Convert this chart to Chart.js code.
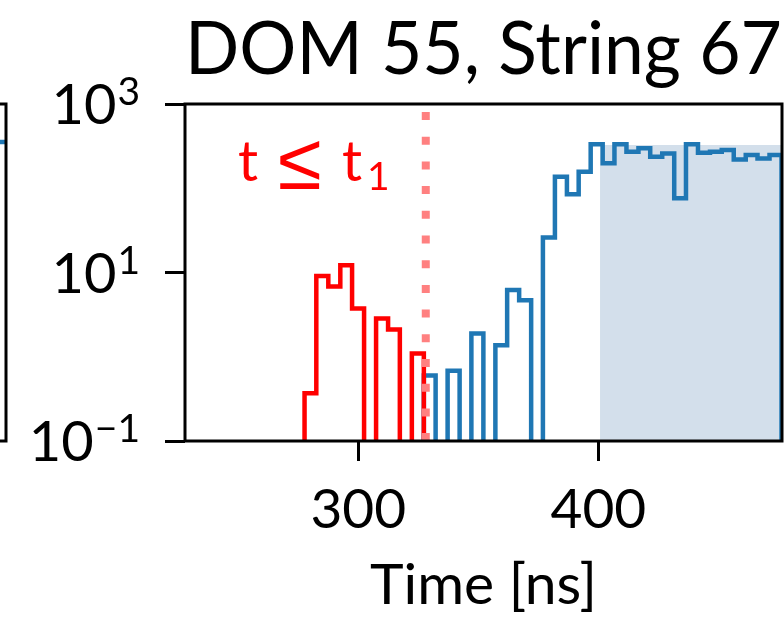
<!DOCTYPE html>
<html>
<head>
<meta charset="utf-8">
<script src="https://cdn.jsdelivr.net/npm/chart.js@4.4.0/dist/chart.umd.min.js"></script>
<style>
  html, body { margin: 0; padding: 0; background: #fff; overflow: hidden; }
  #wrap { position: relative; width: 784px; height: 623px; overflow: hidden; }
  #main { position: absolute; left: 0; top: 0; }
  #side { position: absolute; left: -292px; top: 0; }
</style>
</head>
<body>
<div id="wrap">
  <canvas id="side" width="300" height="623"></canvas>
  <canvas id="main" width="784" height="623"></canvas>
</div>
<script>
// histogram bin edges [ns]
const binEdges = [
  277.6, 282.5, 287.5, 292.5, 297.4, 302.4, 307.4, 312.4, 317.3, 322.3,
  327.3, 332.2, 337.2, 342.2, 347.1, 352.1, 357.1, 362.0, 367.0, 372.0,
  376.9, 381.9, 386.9, 391.8, 396.8, 401.8, 406.7, 411.7, 416.7, 421.6,
  426.6, 431.6, 436.5, 441.5, 446.5, 451.4, 456.4, 461.4, 466.3, 471.3, 476.3
];
// counts before t1 (red) and after (blue)
const redCounts = [0.37, 9.1, 6.8, 12.2, 3.75, 0, 2.85, 2.1, 0, 1.09];
const blueCounts = [
  0.60, 0, 0.68, 0, 1.89, 0, 1.37, 6.2, 4.7, 0,
  26, 137, 85, 157, 332, 198, 332, 272, 298, 237,
  259, 76, 332, 264, 272, 285, 220, 248, 226, 248
];
const t1 = 328.1;
const shadeStart = 400.7;
const shadeTop = 326;
const xTickValues = [300, 400];
const yTickValues = [0.1, 10, 1000];
// neighbouring panel (only its right edge is visible)
const sideX = [0.9, 1.0];
const sideY = [354, 354];

const FONT = 'Lato, "DejaVu Sans", sans-serif';
const FLOOR = 1e-3;
Chart.defaults.font.family = FONT;
Chart.defaults.color = '#000';

function stepPoints(edges, counts) {
  const pts = [{x: edges[0], y: FLOOR}];
  counts.forEach((c, i) => pts.push({x: edges[i], y: c > 0 ? c : FLOOR}));
  pts.push({x: edges[counts.length], y: FLOOR});
  return pts;
}

const framePlugin = {
  id: 'frame',
  afterDraw(chart) {
    const {ctx, chartArea: a} = chart;
    ctx.save();
    ctx.strokeStyle = '#000';
    ctx.lineWidth = 3;
    ctx.strokeRect(a.left, a.top, a.right - a.left, a.bottom - a.top);
    ctx.restore();
  }
};

const yLabelPlugin = {
  id: 'yLabels',
  afterDraw(chart) {
    const {ctx, scales: {y}} = chart;
    ctx.save();
    ctx.fillStyle = '#000';
    ctx.textAlign = 'right';
    ctx.textBaseline = 'alphabetic';
    yTickValues.forEach(v => {
      const py = y.getPixelForValue(v);
      const exp = Math.round(Math.log10(v));
      const sup = exp < 0 ? '\u2212' + (-exp) : String(exp);
      ctx.font = '39px ' + FONT;
      const sw = ctx.measureText(sup).width;
      ctx.fillText(sup, 140, py + 1);
      ctx.font = '56px ' + FONT;
      const m = ctx.measureText('10');
      ctx.fillText('10', 140 - sw - 1, py + m.actualBoundingBoxAscent / 2);
    });
    ctx.restore();
  }
};

const noteLabel = {x: 249.9, y: 122};
const notePlugin = {
  id: 'note',
  afterDatasetsDraw(chart) {
    const {ctx, scales: {x, y}} = chart;
    const x0 = x.getPixelForValue(noteLabel.x);
    const y0 = y.getPixelForValue(noteLabel.y);
    ctx.save();
    ctx.fillStyle = '#ff0000';
    ctx.textAlign = 'left';
    ctx.textBaseline = 'alphabetic';
    ctx.font = '56px ' + FONT;
    ctx.fillText('t', x0, y0);
    ctx.fillText('t', x0 + 104, y0);
    ctx.font = '80px "Liberation Sans", sans-serif';
    ctx.fillText('\u2264', x0 + 40, y0 + 8);
    ctx.font = '39px ' + FONT;
    ctx.fillText('1', x0 + 129, y0 + 9);
    ctx.restore();
  }
};

const tickGrid = {
  display: true,
  drawOnChartArea: false,
  drawTicks: true,
  tickLength: 20,
  tickWidth: 3,
  tickColor: '#000'
};

new Chart(document.getElementById('main'), {
  type: 'line',
  data: {
    datasets: [
      {
        data: [{x: t1, y: 1000}, {x: t1, y: 0.1}],
        borderColor: '#ff8080',
        borderWidth: 8,
        borderDash: [8, 16.7],
        borderDashOffset: 16.7,
        borderCapStyle: 'butt',
        pointRadius: 0,
        order: 0,
        clip: 0
      },
      {
        data: stepPoints(binEdges.slice(0, redCounts.length + 1), redCounts),
        borderColor: '#ff0000',
        borderWidth: 4.5,
        stepped: 'before',
        pointRadius: 0,
        order: 1,
        clip: 0
      },
      {
        data: stepPoints(binEdges.slice(redCounts.length), blueCounts),
        borderColor: '#1f77b4',
        borderWidth: 4.5,
        stepped: 'before',
        pointRadius: 0,
        order: 2,
        clip: 0
      },
      {
        data: [{x: shadeStart, y: shadeTop}, {x: 476.5, y: shadeTop}],
        backgroundColor: '#d3dfeb',
        borderWidth: 0,
        fill: 'start',
        pointRadius: 0,
        order: 3,
        clip: 0
      }
    ]
  },
  options: {
    responsive: false,
    animation: false,
    devicePixelRatio: 1,
    layout: {padding: {left: 0, right: 2, top: 0, bottom: 0}},
    scales: {
      x: {
        type: 'linear',
        min: 227.8,
        max: 476.5,
        grid: tickGrid,
        border: {display: false},
        afterBuildTicks: s => { s.ticks = xTickValues.map(v => ({value: v})); },
        afterFit: s => { s.height = 182; },
        ticks: {
          font: {size: 55},
          color: '#000',
          padding: 16,
          maxRotation: 0
        },
        title: {
          display: true,
          text: 'Time [ns]',
          font: {size: 57},
          color: '#000',
          padding: {top: 0, bottom: 3}
        }
      },
      y: {
        type: 'logarithmic',
        min: 0.1,
        max: 1000,
        grid: tickGrid,
        border: {display: false},
        afterBuildTicks: s => { s.ticks = yTickValues.map(v => ({value: v})); },
        afterFit: s => { s.width = 185; },
        ticks: {display: false}
      }
    },
    plugins: {
      legend: {display: false},
      tooltip: {enabled: false},
      title: {
        display: true,
        text: 'DOM 55, String 67',
        fullSize: false,
        font: {size: 73, weight: 'normal'},
        color: '#000',
        padding: {top: 7, bottom: 9.4}
      }
    }
  },
  plugins: [framePlugin, yLabelPlugin, notePlugin]
});

new Chart(document.getElementById('side'), {
  type: 'line',
  data: {
    datasets: [{
      data: sideX.map((v, i) => ({x: v, y: sideY[i]})),
      borderColor: '#1f77b4',
      borderWidth: 4.5,
      pointRadius: 0,
      clip: 0
    }]
  },
  options: {
    responsive: false,
    animation: false,
    devicePixelRatio: 1,
    layout: {padding: {left: 0, right: 2, top: 104, bottom: 182}},
    scales: {
      x: {type: 'linear', display: false, min: 0, max: 1},
      y: {type: 'logarithmic', display: false, min: 0.1, max: 1000}
    },
    plugins: {legend: {display: false}, tooltip: {enabled: false}}
  },
  plugins: [framePlugin]
});
</script>
</body>
</html>
